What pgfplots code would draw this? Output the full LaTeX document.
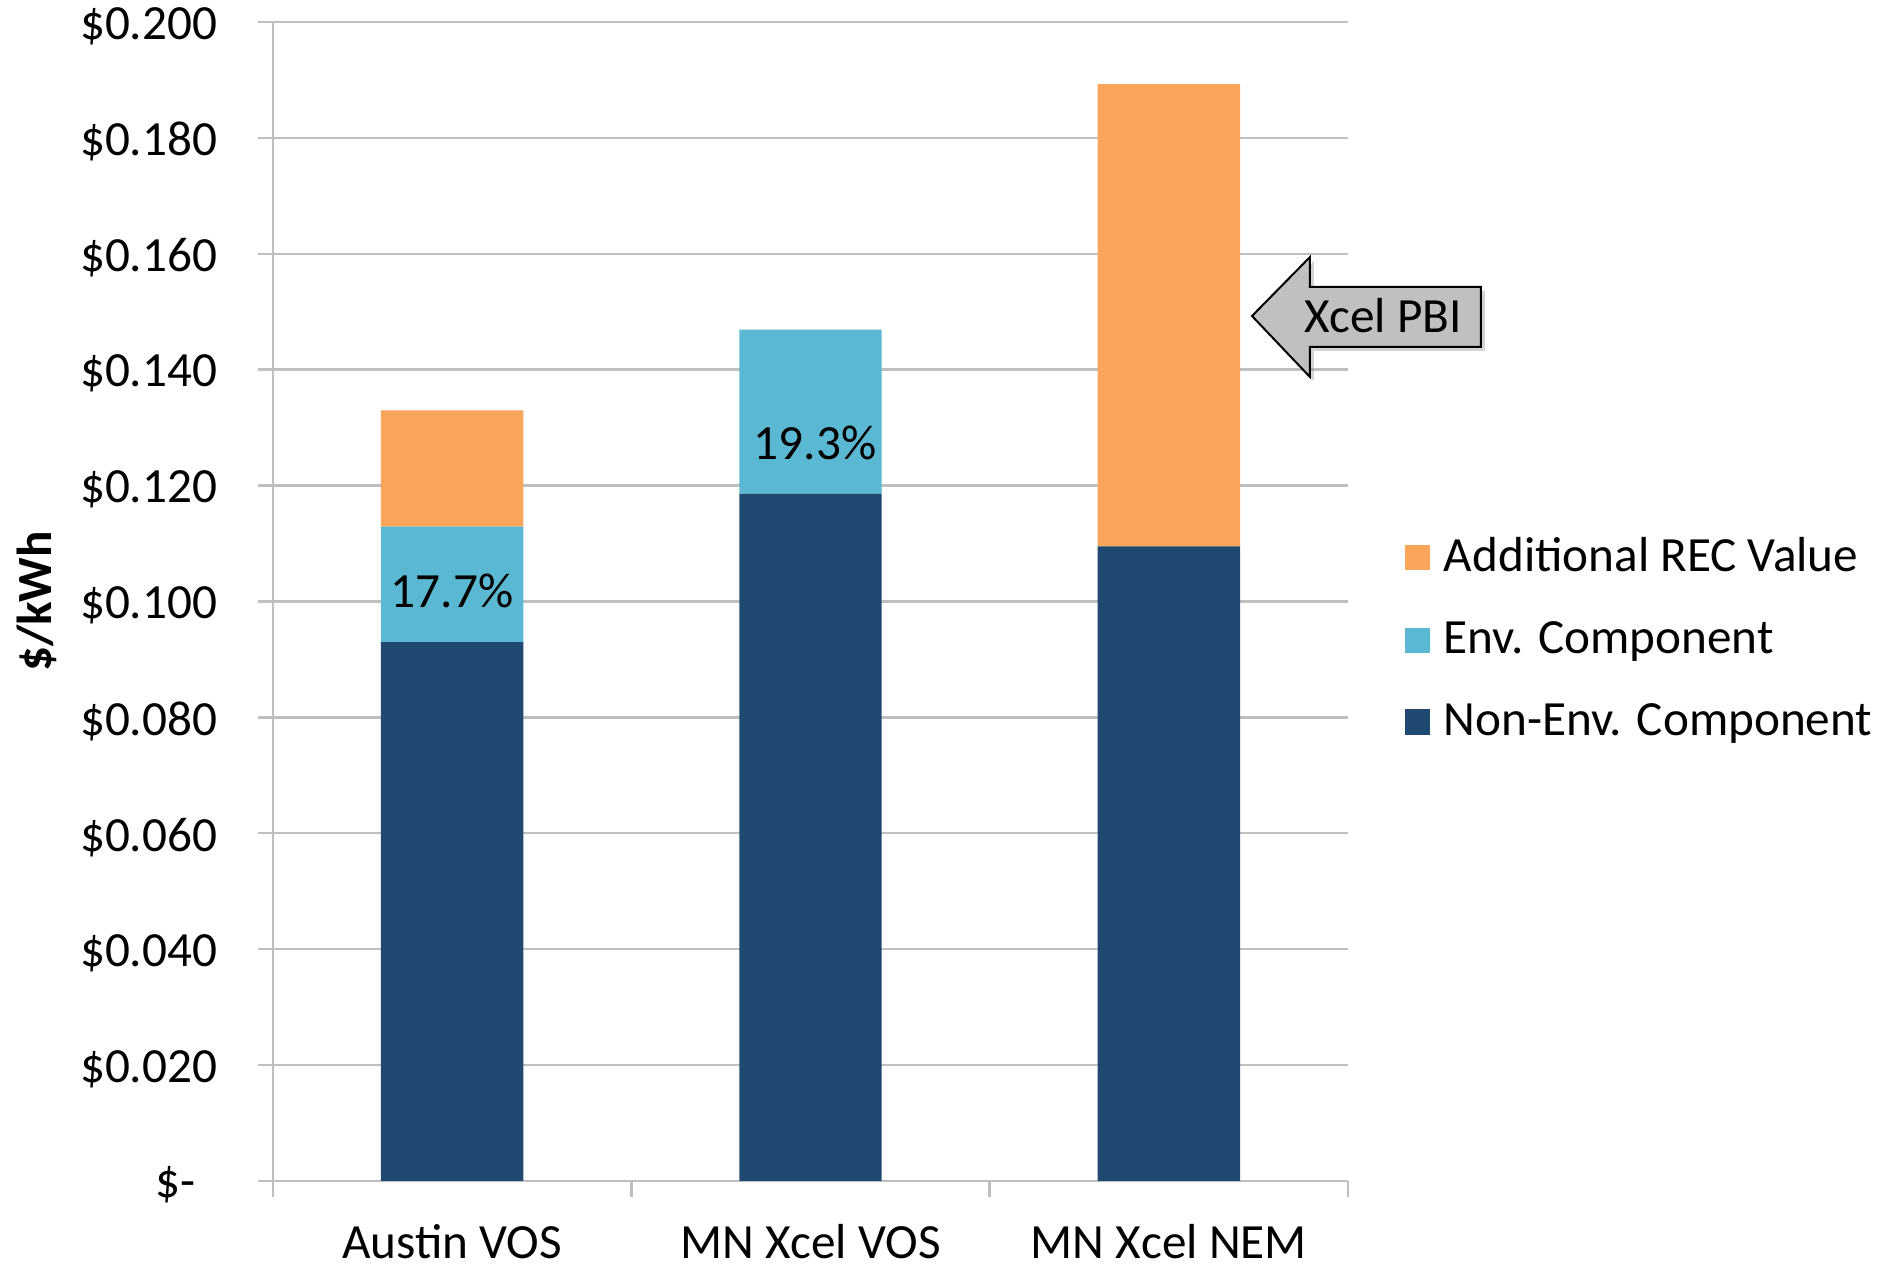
\documentclass[border=0pt]{standalone}
\usepackage{fontspec}
\setmainfont{Carlito}
\usepackage{pgfplots}
\pgfplotsset{compat=1.18}
\usetikzlibrary{shadows}

\definecolor{recorange}{HTML}{F9A55A}
\definecolor{envblue}{HTML}{5BB8D2}
\definecolor{nonenv}{HTML}{1F4970}
\definecolor{gridgray}{HTML}{BFBFBF}
\definecolor{arrowgray}{HTML}{C0C0C0}
\newcommand{\chartfont}{\fontsize{12.3}{14.5}\selectfont}

\begin{document}
\begin{tikzpicture}
\useasboundingbox (-68.25pt,-21.25pt) rectangle (401.5pt,295.25pt);
\begin{axis}[
    scale only axis,
    width=268.75pt, height=289.75pt,
    xmin=-0.5, xmax=2.5, ymin=0, ymax=0.2,
    ybar stacked, bar width=35.6pt,
    axis x line*=bottom, axis y line*=left,
    axis line style={gridgray, line width=0.7pt, -},
    tick style={gridgray, line width=0.6pt},
    tick align=outside,
    xtick={0,1,2},
    xticklabels={Austin VOS, MN Xcel VOS, MN Xcel NEM},
    major x tick style={draw=none},
    minor xtick={-0.5,0.5,1.5,2.5},
    minor tick length=4pt,
    major tick length=3.75pt,
    ytick={0,0.02,0.04,0.06,0.08,0.1,0.12,0.14,0.16,0.18,0.2},
    yticklabels={\$-\kern5.4pt, \$0.020, \$0.040, \$0.060, \$0.080, \$0.100, \$0.120, \$0.140, \$0.160, \$0.180, \$0.200},
    ymajorgrids, grid style={gridgray, line width=0.6pt},
    ticklabel style={font=\chartfont},
    yticklabel style={inner sep=0pt, xshift=-10pt, yshift=-1pt},
    xticklabel style={inner sep=0pt, yshift=-7pt},
    every axis y label/.style={at={(axis description cs:0,0.5)}, rotate=90, anchor=center, yshift=59pt},
    ylabel={\bfseries\$/kWh},
    label style={font=\chartfont},
    legend style={at={(rel axis cs:1.052,0.4676)}, anchor=west, draw=none, fill=none,
        inner sep=0pt, row sep=7pt, font=\chartfont,
        /tikz/every odd column/.append style={column sep=1.5pt}},
    legend cell align=left,
    reverse legend,
    legend image code/.code={\fill[#1] (0pt,-3.15pt) rectangle (6.3pt,3.15pt);},
]
\addplot[fill=nonenv, draw=none] coordinates {(0,0.0930) (1,0.1186) (2,0.1095)};
\addplot[fill=envblue, draw=none] coordinates {(0,0.0199) (1,0.0283) (2,0)};
\addplot[fill=recorange, draw=none] coordinates {(0,0.0201) (1,0) (2,0.0798)};
\legend{Non-Env. Component, Env. Component, Additional REC Value}
\coordinate (lab1) at (axis cs:0,0.1018);
\coordinate (lab2) at (axis cs:1.013,0.1273);
\end{axis}
\node[font=\chartfont] at (lab1) {17.7\%};
\node[font=\chartfont] at (lab2) {19.3\%};
\draw[fill=arrowgray, draw=black, line width=0.5pt, drop shadow={opacity=0.35, shadow xshift=1pt, shadow yshift=-1pt}]
  (244.75pt,216.25pt) -- (259.25pt,231pt) -- (259.25pt,223.5pt) -- (302pt,223.5pt)
  -- (302pt,208.5pt) -- (259.25pt,208.5pt) -- (259.25pt,201pt) -- cycle;
\node[font=\chartfont] at (277.5pt,216.25pt) {Xcel PBI};
\end{tikzpicture}
\end{document}
